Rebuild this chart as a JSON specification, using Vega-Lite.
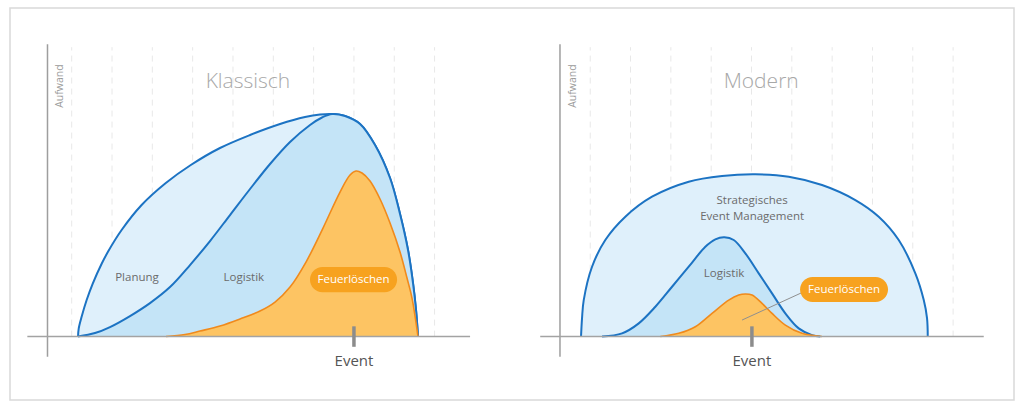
{
  "$schema": "https://vega.github.io/schema/vega-lite/v6.json",
  "width": 1004,
  "height": 392,
  "autosize": {"type": "none"},
  "padding": {"left": 10, "top": 8, "right": 10, "bottom": 9},
  "background": "white",
  "config": {
    "view": {"stroke": "#d9d9d9", "strokeWidth": 1.5},
    "text": {"font": "Open Sans"}
  },
  "datasets": {
    "curves": [
      {"s": "K-Planung", "x": 1.157, "y": 0}, {"s": "K-Planung", "x": 1.174, "y": 2.74}, {"s": "K-Planung", "x": 1.248, "y": 6.84}, {"s": "K-Planung", "x": 1.371, "y": 12.49}, {"s": "K-Planung", "x": 1.522, "y": 18.14}, {"s": "K-Planung", "x": 1.746, "y": 24.98}, {"s": "K-Planung", "x": 1.903, "y": 29.09}, {"s": "K-Planung", "x": 2.238, "y": 36.45}, {"s": "K-Planung", "x": 2.734, "y": 45.0}, {"s": "K-Planung", "x": 3.334, "y": 52.53}, {"s": "K-Planung", "x": 3.954, "y": 58.69}, {"s": "K-Planung", "x": 4.678, "y": 64.51}, {"s": "K-Planung", "x": 5.423, "y": 68.96}, {"s": "K-Planung", "x": 6.167, "y": 72.72}, {"s": "K-Planung", "x": 6.787, "y": 75.12}, {"s": "K-Planung", "x": 7.159, "y": 75.98}, {"s": "K-Planung", "x": 7.456, "y": 76.15}, {"s": "K-Planung", "x": 7.779, "y": 75.46}, {"s": "K-Planung", "x": 8.151, "y": 72.72}, {"s": "K-Planung", "x": 8.523, "y": 65.54}, {"s": "K-Planung", "x": 8.895, "y": 54.24}, {"s": "K-Planung", "x": 9.143, "y": 41.92}, {"s": "K-Planung", "x": 9.341, "y": 29.6}, {"s": "K-Planung", "x": 9.465, "y": 18.31}, {"s": "K-Planung", "x": 9.54, "y": 9.07}, {"s": "K-Planung", "x": 9.589, "y": 0},
      {"s": "K-Logistik", "x": 1.157, "y": 0}, {"s": "K-Logistik", "x": 1.578, "y": 1.2}, {"s": "K-Logistik", "x": 1.95, "y": 3.25}, {"s": "K-Logistik", "x": 2.446, "y": 7.02}, {"s": "K-Logistik", "x": 2.942, "y": 11.46}, {"s": "K-Logistik", "x": 3.438, "y": 16.94}, {"s": "K-Logistik", "x": 3.934, "y": 24.47}, {"s": "K-Logistik", "x": 4.43, "y": 32.68}, {"s": "K-Logistik", "x": 4.927, "y": 41.58}, {"s": "K-Logistik", "x": 5.423, "y": 50.48}, {"s": "K-Logistik", "x": 5.919, "y": 59.03}, {"s": "K-Logistik", "x": 6.415, "y": 66.56}, {"s": "K-Logistik", "x": 6.911, "y": 72.38}, {"s": "K-Logistik", "x": 7.208, "y": 74.95}, {"s": "K-Logistik", "x": 7.456, "y": 76.15}, {"s": "K-Logistik", "x": 7.779, "y": 75.46}, {"s": "K-Logistik", "x": 8.151, "y": 72.72}, {"s": "K-Logistik", "x": 8.523, "y": 65.54}, {"s": "K-Logistik", "x": 8.895, "y": 54.24}, {"s": "K-Logistik", "x": 9.143, "y": 41.92}, {"s": "K-Logistik", "x": 9.341, "y": 29.6}, {"s": "K-Logistik", "x": 9.465, "y": 18.31}, {"s": "K-Logistik", "x": 9.54, "y": 9.07}, {"s": "K-Logistik", "x": 9.589, "y": 0},
      {"s": "K-Feuer", "x": 3.339, "y": 0}, {"s": "K-Feuer", "x": 3.81, "y": 0.68}, {"s": "K-Feuer", "x": 4.182, "y": 1.88}, {"s": "K-Feuer", "x": 4.678, "y": 3.59}, {"s": "K-Feuer", "x": 5.174, "y": 5.99}, {"s": "K-Feuer", "x": 5.67, "y": 8.73}, {"s": "K-Feuer", "x": 6.043, "y": 11.81}, {"s": "K-Feuer", "x": 6.415, "y": 16.94}, {"s": "K-Feuer", "x": 6.811, "y": 25.5}, {"s": "K-Feuer", "x": 7.233, "y": 37.13}, {"s": "K-Feuer", "x": 7.655, "y": 49.45}, {"s": "K-Feuer", "x": 7.903, "y": 55.27}, {"s": "K-Feuer", "x": 8.051, "y": 56.64}, {"s": "K-Feuer", "x": 8.2, "y": 55.95}, {"s": "K-Feuer", "x": 8.399, "y": 53.22}, {"s": "K-Feuer", "x": 8.647, "y": 47.06}, {"s": "K-Feuer", "x": 8.895, "y": 38.84}, {"s": "K-Feuer", "x": 9.143, "y": 28.92}, {"s": "K-Feuer", "x": 9.316, "y": 20.02}, {"s": "K-Feuer", "x": 9.44, "y": 13.18}, {"s": "K-Feuer", "x": 9.589, "y": 0},
      {"s": "M-Strategisch", "x": 13.632, "y": 0}, {"s": "M-Strategisch", "x": 13.657, "y": 6.33}, {"s": "M-Strategisch", "x": 13.699, "y": 12.49}, {"s": "M-Strategisch", "x": 13.905, "y": 23.89}, {"s": "M-Strategisch", "x": 14.234, "y": 33.03}, {"s": "M-Strategisch", "x": 14.731, "y": 41.0}, {"s": "M-Strategisch", "x": 15.393, "y": 47.84}, {"s": "M-Strategisch", "x": 16.303, "y": 52.98}, {"s": "M-Strategisch", "x": 17.129, "y": 54.93}, {"s": "M-Strategisch", "x": 17.955, "y": 55.51}, {"s": "M-Strategisch", "x": 18.783, "y": 54.69}, {"s": "M-Strategisch", "x": 19.609, "y": 51.85}, {"s": "M-Strategisch", "x": 20.435, "y": 46.71}, {"s": "M-Strategisch", "x": 21.015, "y": 41.0}, {"s": "M-Strategisch", "x": 21.511, "y": 33.03}, {"s": "M-Strategisch", "x": 21.923, "y": 21.63}, {"s": "M-Strategisch", "x": 22.132, "y": 12.49}, {"s": "M-Strategisch", "x": 22.213, "y": 6.33}, {"s": "M-Strategisch", "x": 22.231, "y": 0},
      {"s": "M-Logistik", "x": 14.153, "y": 0}, {"s": "M-Logistik", "x": 14.649, "y": 1.1}, {"s": "M-Logistik", "x": 15.063, "y": 4.52}, {"s": "M-Logistik", "x": 15.475, "y": 10.2}, {"s": "M-Logistik", "x": 15.889, "y": 17.04}, {"s": "M-Logistik", "x": 16.303, "y": 23.89}, {"s": "M-Logistik", "x": 16.715, "y": 30.73}, {"s": "M-Logistik", "x": 16.963, "y": 33.27}, {"s": "M-Logistik", "x": 17.186, "y": 33.95}, {"s": "M-Logistik", "x": 17.419, "y": 33.03}, {"s": "M-Logistik", "x": 17.707, "y": 28.47}, {"s": "M-Logistik", "x": 18.039, "y": 21.63}, {"s": "M-Logistik", "x": 18.369, "y": 14.78}, {"s": "M-Logistik", "x": 18.699, "y": 7.94}, {"s": "M-Logistik", "x": 19.031, "y": 2.81}, {"s": "M-Logistik", "x": 19.361, "y": 0.51}, {"s": "M-Logistik", "x": 19.567, "y": 0},
      {"s": "M-Feuer", "x": 15.599, "y": 0}, {"s": "M-Feuer", "x": 16.055, "y": 1.1}, {"s": "M-Feuer", "x": 16.467, "y": 3.35}, {"s": "M-Feuer", "x": 16.881, "y": 7.94}, {"s": "M-Feuer", "x": 17.295, "y": 12.49}, {"s": "M-Feuer", "x": 17.543, "y": 14.2}, {"s": "M-Feuer", "x": 17.707, "y": 14.54}, {"s": "M-Feuer", "x": 17.873, "y": 14.2}, {"s": "M-Feuer", "x": 18.121, "y": 11.36}, {"s": "M-Feuer", "x": 18.369, "y": 7.94}, {"s": "M-Feuer", "x": 18.699, "y": 3.94}, {"s": "M-Feuer", "x": 19.113, "y": 1.1}, {"s": "M-Feuer", "x": 19.609, "y": 0}
    ],
    "grid": [
      {"x": 1}, {"x": 2}, {"x": 3}, {"x": 4}, {"x": 5}, {"x": 6}, {"x": 7}, {"x": 8}, {"x": 9}, {"x": 10},
      {"x": 13.86}, {"x": 14.86}, {"x": 15.86}, {"x": 16.86}, {"x": 17.86}, {"x": 18.86}, {"x": 19.86}, {"x": 20.86}, {"x": 21.86}, {"x": 22.86}
    ],
    "yaxes": [{"x": 0.4}, {"x": 13.11}],
    "baselines": [{"x": -0.1, "x2": 10.88}, {"x": 12.62, "x2": 23.62}],
    "events": [{"x": 8.0, "label": "Event"}, {"x": 17.87, "label": "Event"}],
    "titles": [{"x": 5.37, "y": 87.1, "t": "Klassisch"}, {"x": 18.1, "y": 87.1, "t": "Modern"}],
    "aufwand": [{"x": 0.71, "y": 85.7, "t": "Aufwand"}, {"x": 13.43, "y": 85.7, "t": "Aufwand"}],
    "labels": [
      {"x": 2.62, "y": 20.0, "t": "Planung"},
      {"x": 5.27, "y": 20.0, "t": "Logistik"},
      {"x": 17.875, "y": 46.5, "t": "Strategisches"},
      {"x": 17.875, "y": 41.0, "t": "Event Management"},
      {"x": 17.18, "y": 21.39, "t": "Logistik"}
    ],
    "pointer": [{"x": 17.625, "y": 5.65, "x2": 19.088, "y2": 14.89}],
    "badges": [
      {"x": 6.91, "x2": 9.07, "y": 15.2, "y2": 23.8, "xc": 7.99, "yc": 19.5, "t": "Feuerlöschen"},
      {"x": 19.064, "x2": 21.246, "y": 11.81, "y2": 20.36, "xc": 20.155, "yc": 16.08, "t": "Feuerlöschen"}
    ]
  },
  "layer": [
    {
      "data": {"name": "grid"},
      "mark": {"type": "rule", "color": "#e8e8e8", "strokeWidth": 1, "strokeDash": [6, 5]},
      "encoding": {
        "x": {"field": "x", "type": "quantitative", "scale": {"domain": [-0.53, 24.37], "nice": false, "zero": false}, "axis": null},
        "y": {"datum": 0, "type": "quantitative", "scale": {"domain": [-21.7, 112.4], "nice": false, "zero": false}, "axis": null},
        "y2": {"datum": 99}
      }
    },
    {
      "data": {"name": "curves"},
      "transform": [{"filter": "datum.s == 'K-Planung' || datum.s == 'M-Strategisch'"}],
      "mark": {"type": "area", "interpolate": "catmull-rom", "color": "#dff0fb", "fillOpacity": 1, "line": {"color": "#1c73c3", "strokeWidth": 2}},
      "encoding": {
        "x": {"field": "x", "type": "quantitative", "scale": {"domain": [-0.53, 24.37], "nice": false, "zero": false}, "axis": null},
        "y": {"field": "y", "type": "quantitative", "scale": {"domain": [-21.7, 112.4], "nice": false, "zero": false}, "axis": null},
        "y2": {"datum": 0},
        "detail": {"field": "s"}
      }
    },
    {
      "data": {"name": "curves"},
      "transform": [{"filter": "datum.s == 'K-Logistik' || datum.s == 'M-Logistik'"}],
      "mark": {"type": "area", "interpolate": "catmull-rom", "color": "#c4e4f7", "fillOpacity": 1, "line": {"color": "#1c73c3", "strokeWidth": 2}},
      "encoding": {
        "x": {"field": "x", "type": "quantitative", "scale": {"domain": [-0.53, 24.37], "nice": false, "zero": false}, "axis": null},
        "y": {"field": "y", "type": "quantitative", "scale": {"domain": [-21.7, 112.4], "nice": false, "zero": false}, "axis": null},
        "y2": {"datum": 0},
        "detail": {"field": "s"}
      }
    },
    {
      "data": {"name": "curves"},
      "transform": [{"filter": "datum.s == 'K-Feuer' || datum.s == 'M-Feuer'"}],
      "mark": {"type": "area", "interpolate": "catmull-rom", "color": "#fdc463", "fillOpacity": 1, "line": {"color": "#f08a1c", "strokeWidth": 1.6}},
      "encoding": {
        "x": {"field": "x", "type": "quantitative", "scale": {"domain": [-0.53, 24.37], "nice": false, "zero": false}, "axis": null},
        "y": {"field": "y", "type": "quantitative", "scale": {"domain": [-21.7, 112.4], "nice": false, "zero": false}, "axis": null},
        "y2": {"datum": 0},
        "detail": {"field": "s"}
      }
    },
    {
      "data": {"name": "yaxes"},
      "mark": {"type": "rule", "color": "#9e9e9e", "strokeWidth": 1.5},
      "encoding": {
        "x": {"field": "x", "type": "quantitative", "scale": {"domain": [-0.53, 24.37], "nice": false, "zero": false}, "axis": null},
        "y": {"datum": -6.9, "type": "quantitative", "scale": {"domain": [-21.7, 112.4], "nice": false, "zero": false}, "axis": null},
        "y2": {"datum": 100}
      }
    },
    {
      "data": {"name": "baselines"},
      "mark": {"type": "rule", "color": "#a3a3a3", "strokeWidth": 1.5},
      "encoding": {
        "x": {"field": "x", "type": "quantitative", "scale": {"domain": [-0.53, 24.37], "nice": false, "zero": false}, "axis": null},
        "x2": {"field": "x2"},
        "y": {"datum": 0, "type": "quantitative", "scale": {"domain": [-21.7, 112.4], "nice": false, "zero": false}, "axis": null}
      }
    },
    {
      "data": {"name": "events"},
      "mark": {"type": "rule", "color": "#8c8c8c", "strokeWidth": 3.5},
      "encoding": {
        "x": {"field": "x", "type": "quantitative", "scale": {"domain": [-0.53, 24.37], "nice": false, "zero": false}, "axis": null},
        "y": {"datum": -3.5, "type": "quantitative", "scale": {"domain": [-21.7, 112.4], "nice": false, "zero": false}, "axis": null},
        "y2": {"datum": 3.5}
      }
    },
    {
      "data": {"name": "events"},
      "mark": {"type": "text", "color": "#555555", "fontSize": 15, "align": "center", "baseline": "middle"},
      "encoding": {
        "x": {"field": "x", "type": "quantitative", "scale": {"domain": [-0.53, 24.37], "nice": false, "zero": false}, "axis": null},
        "y": {"datum": -8.2, "type": "quantitative", "scale": {"domain": [-21.7, 112.4], "nice": false, "zero": false}, "axis": null},
        "text": {"field": "label"}
      }
    },
    {
      "data": {"name": "titles"},
      "mark": {"type": "text", "color": "#a8a8a8", "fontSize": 21, "fontWeight": 300, "align": "center", "baseline": "middle"},
      "encoding": {
        "x": {"field": "x", "type": "quantitative", "scale": {"domain": [-0.53, 24.37], "nice": false, "zero": false}, "axis": null},
        "y": {"field": "y", "type": "quantitative", "scale": {"domain": [-21.7, 112.4], "nice": false, "zero": false}, "axis": null},
        "text": {"field": "t"}
      }
    },
    {
      "data": {"name": "aufwand"},
      "mark": {"type": "text", "color": "#9a9a9a", "fontSize": 10.5, "angle": 270, "align": "center", "baseline": "middle"},
      "encoding": {
        "x": {"field": "x", "type": "quantitative", "scale": {"domain": [-0.53, 24.37], "nice": false, "zero": false}, "axis": null},
        "y": {"field": "y", "type": "quantitative", "scale": {"domain": [-21.7, 112.4], "nice": false, "zero": false}, "axis": null},
        "text": {"field": "t"}
      }
    },
    {
      "data": {"name": "labels"},
      "mark": {"type": "text", "color": "#6b6b6b", "fontSize": 11.5, "align": "center", "baseline": "middle"},
      "encoding": {
        "x": {"field": "x", "type": "quantitative", "scale": {"domain": [-0.53, 24.37], "nice": false, "zero": false}, "axis": null},
        "y": {"field": "y", "type": "quantitative", "scale": {"domain": [-21.7, 112.4], "nice": false, "zero": false}, "axis": null},
        "text": {"field": "t"}
      }
    },
    {
      "data": {"name": "pointer"},
      "mark": {"type": "rule", "color": "#8f8f8f", "strokeWidth": 1},
      "encoding": {
        "x": {"field": "x", "type": "quantitative", "scale": {"domain": [-0.53, 24.37], "nice": false, "zero": false}, "axis": null},
        "y": {"field": "y", "type": "quantitative", "scale": {"domain": [-21.7, 112.4], "nice": false, "zero": false}, "axis": null},
        "x2": {"field": "x2"},
        "y2": {"field": "y2"}
      }
    },
    {
      "data": {"name": "badges"},
      "mark": {"type": "rect", "color": "#f7a21f", "cornerRadius": 12.5},
      "encoding": {
        "x": {"field": "x", "type": "quantitative", "scale": {"domain": [-0.53, 24.37], "nice": false, "zero": false}, "axis": null},
        "x2": {"field": "x2"},
        "y": {"field": "y", "type": "quantitative", "scale": {"domain": [-21.7, 112.4], "nice": false, "zero": false}, "axis": null},
        "y2": {"field": "y2"}
      }
    },
    {
      "data": {"name": "badges"},
      "mark": {"type": "text", "color": "#ffffff", "fontSize": 11.5, "align": "center", "baseline": "middle"},
      "encoding": {
        "x": {"field": "xc", "type": "quantitative", "scale": {"domain": [-0.53, 24.37], "nice": false, "zero": false}, "axis": null},
        "y": {"field": "yc", "type": "quantitative", "scale": {"domain": [-21.7, 112.4], "nice": false, "zero": false}, "axis": null},
        "text": {"field": "t"}
      }
    }
  ]
}
